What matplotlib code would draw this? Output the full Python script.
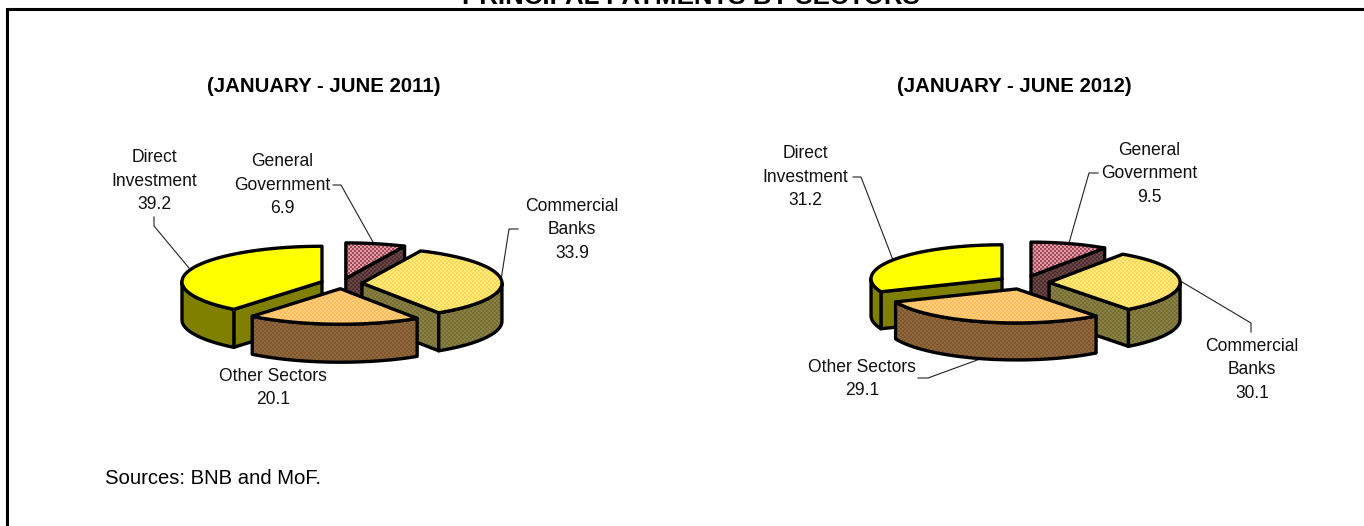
import matplotlib
matplotlib.use('Agg')
import matplotlib.pyplot as plt
import numpy as np
from matplotlib.colors import to_rgb
from matplotlib.patches import Polygon

plt.rcParams['font.family'] = ['Liberation Sans', 'DejaVu Sans']

W, H = 1364, 526

sectors = ['General\nGovernment', 'Commercial\nBanks', 'Other Sectors', 'Direct\nInvestment']
values_2011 = [6.9, 33.9, 20.1, 39.2]
values_2012 = [9.5, 30.1, 29.1, 31.2]
titles = ['(JANUARY - JUNE 2011)', '(JANUARY - JUNE 2012)']

# (light, dark) of the dither for top and side of each sector
top_colors = [('#D8A0A8', '#A84454'), ('#FFEC7C', '#FFD658'), ('#FFCE80', '#FFBC58'), ('#FFFF00', '#FFFF00')]
side_colors = [('#684646', '#4E2E2E'), ('#8A7E4A', '#76702E'), ('#90683C', '#7E5630'), ('#808000', '#808000')]

# back to front
draw_order = [0, 3, 1, 2]

yy, xx = np.mgrid[0:H, 0:W]
checker = ((xx // 2 + yy // 2) % 2).astype(bool)


def fill_poly(ax, pts, colors):
    # dithered fill: checker image clipped by the outline
    img = np.zeros((H, W, 3))
    img[checker] = to_rgb(colors[0])
    img[~checker] = to_rgb(colors[1])
    im = ax.imshow(img, extent=(0, W, H, 0), interpolation='nearest', aspect='auto', zorder=2)
    clip = Polygon(pts, closed=True, transform=ax.transData)
    im.set_clip_path(clip)
    ax.add_patch(Polygon(pts, closed=True, fill=False, edgecolor='black', linewidth=2.4,
                         joinstyle='round', zorder=2))


def draw_pie(ax, values, cx, cy, rx, ry, depth, explode):
    angles = np.concatenate([[0], np.cumsum(values)]) / np.sum(values) * 2 * np.pi
    for i in draw_order:
        a0, a1 = angles[i], angles[i + 1]
        mid = (a0 + a1) / 2
        ax_x = cx + explode * np.sin(mid)
        ax_y = cy - explode * ry / rx * np.cos(mid)
        apex = np.array([ax_x, ax_y])
        t = np.linspace(a0, a1, 80)
        arc = np.column_stack([ax_x + rx * np.sin(t), ax_y - ry * np.cos(t)])
        down = np.array([0, depth])

        # straight cut faces, only those turned to the viewer
        mid_pt = np.array([rx * np.sin(mid), -ry * np.cos(mid)])
        for a in (a0, a1):
            e = np.array([rx * np.sin(a), -ry * np.cos(a)])
            if abs(e[0]) < 1e-6:
                continue
            if mid_pt[1] < e[1] / e[0] * mid_pt[0]:
                fill_poly(ax, [apex, apex + e, apex + e + down, apex + down], side_colors[i])

        # curved side, lower half of the ellipse only
        lo, hi = max(a0, np.pi / 2), min(a1, 3 * np.pi / 2)
        if hi > lo:
            s = np.linspace(lo, hi, 80)
            rim = np.column_stack([ax_x + rx * np.sin(s), ax_y - ry * np.cos(s)])
            fill_poly(ax, np.vstack([rim, rim[::-1] + down]), side_colors[i])

        fill_poly(ax, np.vstack([apex, arc]), top_colors[i])


fig = plt.figure(figsize=(W / 100, H / 100), dpi=100)
ax = fig.add_axes([0, 0, 1, 1])

draw_pie(ax, values_2011, 341.4, 283.5, 140, 35.5, 38, 20.6)
draw_pie(ax, values_2012, 1023.4, 282.5, 131, 34, 37, 25.7)

ax.set_xlim(0, W)
ax.set_ylim(H, 0)
ax.axis('off')

# frame
ax.plot([6.5, 6.5, W + 5], [H + 5, 8.5, 8.5], color='black', linewidth=2.2, solid_joinstyle='miter', zorder=5)

ax.text(690.5, 3.5, 'PRINCIPAL PAYMENTS BY SECTORS', fontsize=18.6, fontweight='bold', ha='center', va='baseline')
ax.text(324, 86, titles[0], fontsize=14.7, fontweight='bold', ha='center', va='center')
ax.text(1014, 86, titles[1], fontsize=14.7, fontweight='bold', ha='center', va='center')
ax.text(105, 478, 'Sources: BNB and MoF.', fontsize=14.6, ha='left', va='center')

# data labels
label_xy_2011 = [(282, 185), (572, 230), (273, 388), (154, 181)]
label_xy_2012 = [(1149, 174), (1252, 370), (862, 379), (805, 177)]
for vals, xys in ((values_2011, label_xy_2011), (values_2012, label_xy_2012)):
    for name, val, (x, y) in zip(sectors, vals, xys):
        ax.text(x, y, f'{name}\n{val}', fontsize=12.65, ha='center', va='center', linespacing=1.47, color='#111111')

# leader lines
leaders = [
    [(333, 185), (341, 185), (373, 242)],
    [(154, 217), (154, 226), (189, 268)],
    [(518, 229), (509, 229), (501, 280)],
    [(1098, 173), (1089, 173), (1069, 243)],
    [(853, 177), (861, 177), (893, 260)],
    [(1182, 282), (1251, 323), (1251, 332)],
    [(918, 378), (928, 378), (980, 359)],
]
for pts in leaders:
    ax.plot(*zip(*pts), color='#222222', linewidth=0.8, zorder=1)

fig.savefig('out.png', dpi=100)
